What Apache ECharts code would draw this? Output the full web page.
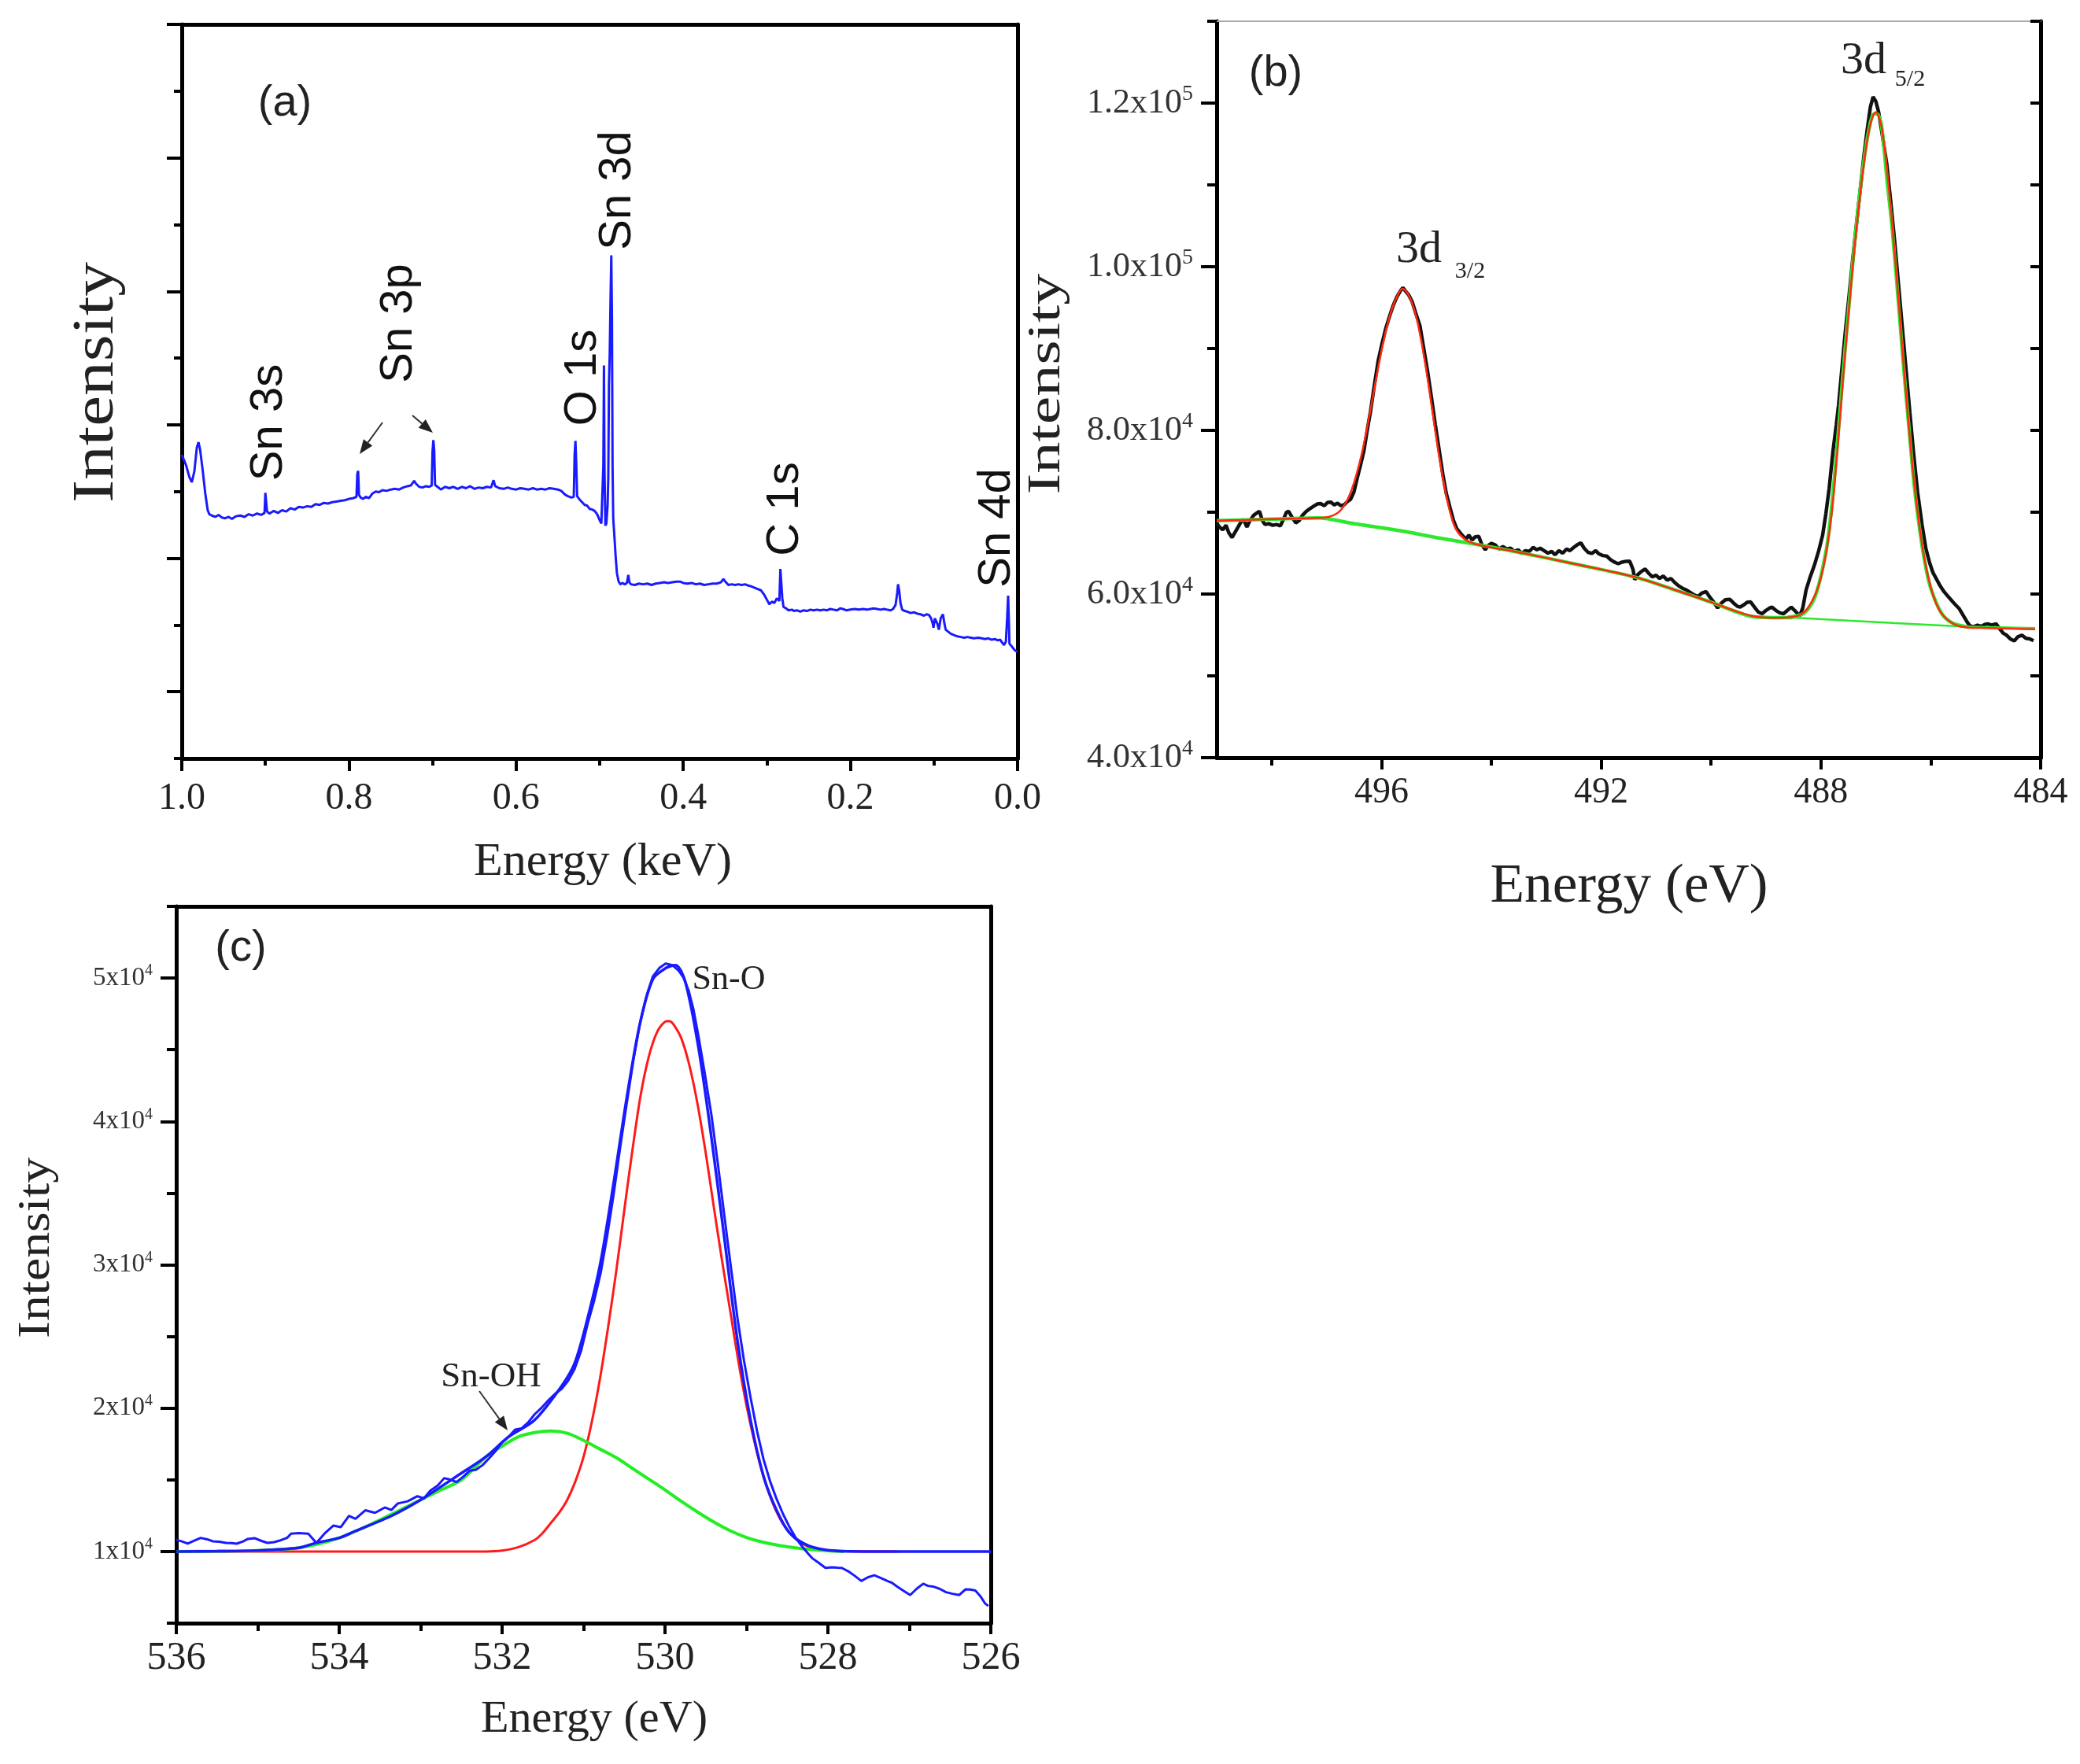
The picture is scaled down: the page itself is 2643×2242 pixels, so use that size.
<!DOCTYPE html>
<html><head><meta charset="utf-8">
<script src="https://cdn.jsdelivr.net/npm/echarts@6.0.0/dist/echarts.min.js"></script>
<style>html,body{margin:0;padding:0;background:#fff}#c{width:2643px;height:2242px}</style>
</head><body><div id="c"></div>
<script>
// ---------- DATA ----------
// (a) survey spectrum: [energy keV, intensity a.u.]
const A_SURVEY = [
[1.000,4.55],[0.995,4.40],[0.991,4.22],[0.988,4.14],[0.985,4.30],[0.982,4.66],[0.980,4.74],[0.978,4.62],[0.975,4.32],[0.972,3.98],
[0.969,3.72],[0.967,3.66],[0.964,3.64],[0.960,3.62],[0.956,3.65],[0.952,3.61],[0.948,3.60],[0.944,3.62],[0.940,3.59],[0.935,3.63],
[0.930,3.64],[0.925,3.62],[0.920,3.66],[0.915,3.64],[0.910,3.67],[0.905,3.65],[0.901,3.68],[0.900,3.98],[0.899,4.00],[0.898,3.70],
[0.895,3.67],[0.890,3.71],[0.885,3.68],[0.880,3.72],[0.875,3.70],[0.870,3.75],[0.865,3.73],[0.860,3.77],[0.855,3.76],[0.850,3.78],
[0.845,3.77],[0.840,3.81],[0.835,3.80],[0.830,3.83],[0.825,3.82],[0.820,3.84],[0.815,3.85],[0.810,3.86],[0.805,3.87],[0.800,3.89],
[0.795,3.90],[0.791,3.92],[0.790,4.26],[0.789,4.31],[0.788,3.95],[0.786,3.91],[0.783,3.89],[0.780,3.92],[0.776,3.90],[0.772,3.97],
[0.768,4.00],[0.764,3.99],[0.760,4.02],[0.755,4.01],[0.750,4.03],[0.745,4.04],[0.740,4.03],[0.735,4.06],[0.730,4.08],[0.726,4.09],
[0.722,4.16],[0.720,4.12],[0.716,4.07],[0.712,4.06],[0.708,4.08],[0.704,4.07],[0.701,4.09],[0.700,4.60],[0.699,4.77],[0.698,4.62],
[0.697,4.10],[0.694,4.07],[0.690,4.03],[0.685,4.07],[0.680,4.05],[0.675,4.07],[0.670,4.04],[0.665,4.07],[0.660,4.05],[0.655,4.08],
[0.650,4.04],[0.645,4.06],[0.640,4.05],[0.635,4.07],[0.630,4.06],[0.627,4.17],[0.625,4.08],[0.620,4.05],[0.615,4.04],[0.610,4.06],
[0.605,4.04],[0.600,4.03],[0.595,4.05],[0.590,4.04],[0.585,4.03],[0.580,4.05],[0.575,4.03],[0.570,4.04],[0.565,4.03],[0.560,4.05],
[0.555,4.04],[0.550,4.03],[0.546,4.01],[0.542,3.96],[0.538,3.93],[0.534,3.91],[0.531,3.92],[0.530,4.55],[0.529,4.76],[0.528,4.40],
[0.527,3.93],[0.524,3.88],[0.521,3.84],[0.518,3.80],[0.515,3.79],[0.512,3.74],[0.509,3.73],[0.506,3.71],[0.503,3.66],[0.500,3.57],
[0.498,3.52],[0.4965,3.50],[0.4956,4.40],[0.4949,5.89],[0.4942,4.30],[0.4932,3.49],[0.4920,3.52],[0.4905,3.80],[0.4897,4.21],[0.4889,5.60],
[0.4880,6.05],[0.4870,6.90],[0.4861,7.54],[0.4853,6.60],[0.4846,4.40],[0.4838,3.60],[0.4826,3.37],[0.4810,3.05],[0.4794,2.78],[0.4775,2.66],
[0.4755,2.61],[0.4730,2.63],[0.4700,2.61],[0.4675,2.63],[0.4657,2.75],[0.4645,2.64],[0.4626,2.61],[0.458,2.60],[0.453,2.62],[0.448,2.61],
[0.443,2.62],[0.438,2.60],[0.433,2.62],[0.428,2.63],[0.423,2.64],[0.418,2.63],[0.413,2.64],[0.408,2.65],[0.404,2.65],[0.400,2.63],
[0.395,2.62],[0.390,2.63],[0.385,2.61],[0.380,2.62],[0.375,2.60],[0.370,2.61],[0.365,2.62],[0.360,2.62],[0.355,2.64],[0.352,2.69],
[0.349,2.64],[0.346,2.60],[0.342,2.61],[0.338,2.60],[0.334,2.61],[0.330,2.60],[0.326,2.61],[0.322,2.59],[0.319,2.58],[0.315,2.56],
[0.311,2.54],[0.307,2.52],[0.303,2.45],[0.300,2.38],[0.297,2.31],[0.294,2.35],[0.291,2.33],[0.288,2.40],[0.285,2.36],[0.2838,2.84],
[0.2830,2.84],[0.2815,2.40],[0.280,2.27],[0.277,2.25],[0.274,2.22],[0.270,2.23],[0.2677,2.21],[0.264,2.22],[0.260,2.20],[0.256,2.22],
[0.252,2.21],[0.248,2.23],[0.244,2.22],[0.240,2.23],[0.236,2.22],[0.232,2.23],[0.228,2.22],[0.224,2.24],[0.220,2.23],[0.216,2.22],
[0.212,2.25],[0.209,2.24],[0.205,2.22],[0.200,2.23],[0.195,2.24],[0.190,2.23],[0.185,2.24],[0.180,2.23],[0.176,2.24],[0.172,2.25],
[0.168,2.24],[0.164,2.23],[0.160,2.24],[0.156,2.23],[0.152,2.22],[0.149,2.24],[0.146,2.30],[0.144,2.48],[0.143,2.61],[0.1415,2.50],
[0.140,2.32],[0.138,2.23],[0.135,2.21],[0.132,2.20],[0.128,2.18],[0.124,2.19],[0.120,2.17],[0.116,2.16],[0.112,2.14],[0.109,2.16],
[0.106,2.15],[0.1035,2.10],[0.1015,2.02],[0.1006,1.96],[0.099,2.10],[0.0974,2.12],[0.096,2.02],[0.0941,1.93],[0.092,2.10],[0.0893,2.16],
[0.0875,2.02],[0.086,1.93],[0.083,1.90],[0.080,1.87],[0.0762,1.85],[0.072,1.83],[0.068,1.82],[0.064,1.81],[0.060,1.82],[0.056,1.81],
[0.052,1.80],[0.047,1.81],[0.043,1.80],[0.039,1.79],[0.035,1.80],[0.031,1.78],[0.027,1.79],[0.024,1.77],[0.021,1.78],[0.018,1.73],
[0.0162,1.70],[0.014,1.75],[0.0125,2.10],[0.0113,2.44],[0.0105,2.10],[0.0097,1.72],[0.007,1.68],[0.0032,1.62],[0.000,1.60]
];
// (b) Sn 3d: measured data [eV, counts]
const B_DATA = [
[499.00,68650],[498.95,68200],[498.89,67850],[498.83,68400],[498.78,67500],[498.72,66900],[498.66,67600],[498.60,68300],[498.55,68900],[498.51,69100],
[498.45,68200],[498.40,68900],[498.33,69600],[498.27,69900],[498.22,70100],[498.17,69000],[498.12,68500],[498.05,68600],[497.98,68400],[497.91,68500],
[497.84,68330],[497.78,69200],[497.73,70000],[497.69,70100],[497.62,69300],[497.56,68700],[497.50,68970],[497.44,69600],[497.37,70100],[497.31,70400],
[497.24,70700],[497.17,71000],[497.11,71050],[497.04,70800],[496.98,71200],[496.92,71220],[496.86,70900],[496.80,71100],[496.74,70800],[496.68,70900],
[496.62,71300],[496.56,71600],[496.50,72500],[496.44,74200],[496.38,75800],[496.32,77500],[496.26,80000],[496.20,82300],[496.13,85500],[496.06,88500],
[495.99,90600],[495.92,92500],[495.85,94000],[495.79,95200],[495.72,96300],[495.65,97100],[495.61,97430],[495.56,97000],[495.50,96500],[495.44,95700],
[495.37,94200],[495.30,92800],[495.23,90000],[495.16,87200],[495.09,84000],[495.02,80700],[494.95,77600],[494.88,74500],[494.82,72300],[494.75,70500],
[494.69,69000],[494.63,68000],[494.57,67500],[494.52,67100],[494.46,66700],[494.41,67200],[494.35,66600],[494.29,67000],[494.23,67050],[494.17,66000],
[494.11,65400],[494.06,65900],[494.00,66200],[493.93,66000],[493.86,65500],[493.79,65800],[493.72,65500],[493.65,65600],[493.58,65200],[493.51,65400],
[493.45,64970],[493.38,65300],[493.31,65200],[493.24,65700],[493.17,65400],[493.11,65600],[493.04,65300],[492.97,65000],[492.90,65200],[492.84,64800],
[492.77,65300],[492.70,65000],[492.63,65500],[492.57,65300],[492.50,65700],[492.44,66000],[492.37,66250],[492.31,65600],[492.24,65100],[492.17,64970],
[492.10,65300],[492.04,64900],[491.97,64700],[491.90,64640],[491.83,64200],[491.76,63900],[491.69,63700],[491.62,63900],[491.55,64000],[491.48,64010],
[491.42,63000],[491.39,61760],[491.33,62400],[491.26,62800],[491.20,63050],[491.13,62500],[491.07,62100],[491.00,62300],[490.94,61900],[490.87,62200],
[490.80,61700],[490.73,61900],[490.66,61400],[490.59,61000],[490.52,60700],[490.45,60500],[490.38,60200],[490.31,59900],[490.24,59700],[490.17,60100],
[490.09,60300],[490.02,59600],[489.95,59000],[489.88,58300],[489.81,58900],[489.74,59300],[489.66,59360],[489.59,58900],[489.52,58500],[489.47,58400],
[489.40,58700],[489.34,59000],[489.28,59040],[489.21,58400],[489.14,57800],[489.07,57600],[489.00,58000],[488.93,58300],[488.89,58390],[488.82,58000],
[488.75,57700],[488.68,57600],[488.61,58000],[488.54,58400],[488.48,58000],[488.41,57500],[488.39,57280],[488.33,58300],[488.27,60490],[488.20,62000],
[488.11,63710],[488.04,65300],[487.97,67160],[487.91,69800],[487.85,72910],[487.78,77500],[487.72,80700],[487.68,83040],[487.62,87400],[487.56,91780],
[487.49,96300],[487.42,100980],[487.35,105400],[487.28,109720],[487.22,113400],[487.16,116620],[487.10,119500],[487.05,120760],[487.00,120200],[486.95,118920],
[486.88,116000],[486.80,112480],[486.73,108000],[486.66,103280],[486.59,98000],[486.52,92700],[486.45,87400],[486.38,82120],[486.31,77000],[486.24,72450],
[486.16,68500],[486.09,65560],[486.02,63800],[485.96,62600],[485.90,61870],[485.83,61000],[485.76,60300],[485.67,59580],[485.58,58900],[485.48,58190],
[485.41,57400],[485.34,56600],[485.29,56120],[485.22,56000],[485.15,56200],[485.08,56050],[485.01,56300],[484.96,56350],[484.89,56200],[484.81,56360],
[484.74,55700],[484.68,55200],[484.62,54970],[484.55,54500],[484.48,54280],[484.41,54800],[484.34,54970],[484.27,54600],[484.20,54520],[484.13,54300]
];
// (b) envelope fit (red)
const B_FIT = [
[499.0,68970],[498.5,69050],[498.0,69150],[497.5,69230],[497.16,69300],[496.95,69450],[496.8,69900],[496.7,70600],[496.6,71800],[496.5,73600],
[496.4,76000],[496.3,79000],[496.2,82500],[496.1,86200],[496.0,89700],[495.9,92700],[495.8,95000],[495.7,96600],[495.62,97300],[495.55,97000],
[495.45,95700],[495.35,93400],[495.25,90000],[495.15,85900],[495.05,81300],[494.95,76800],[494.85,73000],[494.75,70000],[494.65,68000],[494.5,66800],
[494.28,66085],[493.5,65100],[492.5,63700],[491.39,62080],[490.7,60600],[490.0,59000],[489.5,57800],[489.2,57250],[488.9,57100],[488.6,57150],
[488.4,57400],[488.25,58200],[488.1,60000],[488.0,62000],[487.9,65200],[487.8,70000],[487.7,77500],[487.6,86000],[487.5,94000],[487.4,101500],
[487.3,108000],[487.2,113500],[487.12,116800],[487.05,118500],[487.0,118900],[486.9,117200],[486.8,112000],[486.7,105000],[486.6,97000],[486.5,88500],
[486.4,80500],[486.3,73500],[486.2,68000],[486.1,63800],[486.0,60800],[485.9,58800],[485.8,57600],[485.65,56600],[485.5,56100],[485.3,55900],
[485.0,55850],[484.5,55760],[484.1,55700]
];
// (b) background (green), fitted part and tail under 3d5/2
const B_BACKGROUND = [
[499.0,68970],[498.0,69150],[497.16,69300],[496.5,68600],[496.0,68100],[495.5,67550],[495.0,66900],[494.28,66085],[493.5,65100],[492.5,63700],
[491.39,62080],[490.7,60600],[490.0,59000],[489.28,57280],[489.0,57150],[488.51,57115]
];
const B_BACKGROUND_TAIL = [
[488.51,57115],[487.5,56750],[486.5,56400],[485.5,56050],[484.1,55830]
];
// (b) 3d5/2 component (green)
const B_PEAK52 = [
[488.6,57200],[488.3,57700],[488.1,59800],[487.9,65500],[487.8,71000],[487.7,78500],[487.6,86800],[487.5,94500],[487.4,102000],[487.3,108500],
[487.2,113800],[487.12,117000],[487.05,118600],[486.98,118700],[486.9,117400],[486.8,110800],[486.7,104500],[486.6,96500],[486.5,88200],[486.4,80500],
[486.3,73200],[486.2,67800],[486.1,63600],[486.0,60700],[485.8,57600],[485.6,56450],[485.3,55950]
];
// (c) O 1s: measured data
const C_DATA = [
[536.00,10810],[535.93,10700],[535.86,10545],[535.78,10750],[535.70,10950],[535.62,10850],[535.55,10710],[535.47,10680],[535.39,10600],[535.32,10580],
[535.26,10545],[535.18,10700],[535.12,10875],[535.04,10930],[534.96,10750],[534.88,10600],[534.80,10650],[534.72,10780],[534.64,10950],[534.59,11245],
[534.50,11280],[534.42,11260],[534.38,11245],[534.28,10600],[534.17,11310],[534.07,11810],[533.98,11700],[533.88,12480],[533.80,12280],[533.68,12875],
[533.56,12700],[533.44,13070],[533.36,12900],[533.28,13350],[533.16,13500],[533.04,13860],[532.96,13700],[532.88,14250],[532.79,14600],[532.71,15120],
[532.63,15000],[532.56,14845],[532.48,15200],[532.40,15630],[532.32,15700],[532.24,16025],[532.16,16500],[532.08,17010],[532.00,17600],[531.92,18000],
[531.84,18500],[531.76,18585],[531.68,19000],[531.60,19570],[531.52,20000],[531.43,20560],[531.35,21000],[531.27,21345],[531.19,21900],[531.11,22725],
[531.03,24000],[530.95,25880],[530.87,27500],[530.79,29425],[530.71,32000],[530.63,34940],[530.55,38200],[530.47,41250],[530.39,44200],[530.31,46765],
[530.23,48700],[530.15,50110],[530.07,50700],[529.99,51015],[529.91,50900],[529.83,50500],[529.77,50000],[529.71,49130],[529.65,47800],[529.59,45970],
[529.51,43300],[529.43,40460],[529.35,37000],[529.27,33370],[529.19,29800],[529.11,26270],[529.03,23300],[528.95,20755],[528.87,18400],[528.79,16420],
[528.71,14900],[528.63,13660],[528.55,12600],[528.47,11690],[528.39,10900],[528.31,10310],[528.25,9900],[528.19,9520],[528.11,9200],[528.03,8855],
[527.95,8900],[527.88,8870],[527.83,8855],[527.75,8620],[527.67,8300],[527.59,7945],[527.51,8200],[527.43,8340],[527.35,8150],[527.27,7945],
[527.21,7800],[527.15,7555],[527.07,7250],[526.99,6960],[526.91,7400],[526.83,7750],[526.77,7600],[526.71,7555],[526.63,7400],[526.55,7160],
[526.47,7050],[526.39,6960],[526.31,7360],[526.25,7350],[526.19,7280],[526.13,6900],[526.07,6370],[526.03,6200]
];
// (c) envelope fit (blue)
const C_ENVELOPE = [
[536.0,10000],[535.5,10020],[535.0,10070],[534.5,10250],[534.3,10580],[534.0,10950],[533.82,11380],[533.36,12480],[533.0,13600],[532.56,15240],
[532.2,16600],[531.92,18000],[531.6,19175],[531.27,21540],[531.11,23120],[530.95,26270],[530.79,30210],[530.63,35730],[530.47,41640],[530.31,46765],
[530.15,49910],[529.99,50700],[529.87,50900],[529.75,49720],[529.59,45185],[529.43,38880],[529.27,31790],[529.11,24690],[528.95,19175],[528.79,15240],
[528.63,12875],[528.47,11300],[528.23,10390],[527.91,10050],[527.5,10000],[526.0,10000]
];
// (c) Sn-O component (red)
const C_SNO = [
[536.0,10000],[533.0,10000],[532.2,10000],[532.0,10060],[531.8,10300],[531.6,10800],[531.5,11300],[531.4,12000],[531.3,12700],[531.2,13600],
[531.1,14900],[531.0,16600],[530.9,19000],[530.8,22000],[530.7,25600],[530.6,29500],[530.5,33800],[530.4,38000],[530.3,41800],[530.2,44500],
[530.1,46200],[530.0,46950],[529.95,47000],[529.9,46800],[529.8,45800],[529.7,43900],[529.6,41200],[529.5,37800],[529.4,34000],[529.3,30300],
[529.2,26800],[529.1,23300],[529.0,20200],[528.9,17600],[528.8,15400],[528.7,13700],[528.6,12400],[528.5,11500],[528.4,10900],[528.3,10500],
[528.2,10250],[528.05,10100],[527.8,10020],[527.15,10000]
];
// (c) Sn-OH component (green)
const C_SNOH = [
[536.0,10000],[535.5,10020],[535.0,10070],[534.5,10250],[534.0,10950],[533.5,12200],[533.0,13600],[532.75,14300],[532.5,15000],[532.2,16600],
[532.0,17350],[531.8,18000],[531.6,18300],[531.4,18400],[531.2,18250],[531.0,17750],[530.8,17150],[530.6,16550],[530.4,15800],[530.2,15050],
[530.0,14300],[529.8,13500],[529.6,12750],[529.4,12050],[529.2,11450],[529.0,10980],[528.8,10650],[528.6,10420],[528.4,10250],[528.2,10130],
[528.0,10050],[527.8,10000]
];
// tick values
const A_X_TICKS = [0, 0.2, 0.4, 0.6, 0.8, 1.0];
const A_X_MINOR = [0.1, 0.3, 0.5, 0.7, 0.9];
const A_Y_TICKS = [1, 3, 5, 7, 9, 11];
const A_Y_MINOR = [0, 2, 4, 6, 8, 10];
const B_X_TICKS = [484, 488, 492, 496];
const B_X_MINOR = [486, 490, 494, 498];
const B_Y_TICKS = [40000, 60000, 80000, 100000, 120000];
const B_Y_MINOR = [50000, 70000, 90000, 110000, 130000];
const C_X_TICKS = [526, 528, 530, 532, 534, 536];
const C_X_MINOR = [527, 529, 531, 533, 535];
const C_Y_TICKS = [10000, 20000, 30000, 40000, 50000];
const C_Y_MINOR = [5000, 15000, 25000, 35000, 45000, 55000];

// ---------- CHART ----------
const SERIF = '"Liberation Serif", "Times New Roman", serif';
const SANS = '"Liberation Sans", Arial, sans-serif';
const chart = echarts.init(document.getElementById('c'), null, {renderer: 'canvas'});
const mctx = document.createElement('canvas').getContext('2d');
function fitScale(text, font, target) { mctx.font = font; return target / mctx.measureText(text).width; }

function xAxes(g, min, max, majors, minors, o) {
  return [
    {gridIndex: g, type: 'value', position: 'bottom', min, max, inverse: true,
     axisLine: {show: true, onZero: false, lineStyle: {color: '#000', width: o.lw}},
     axisTick: {show: true, customValues: majors, length: o.tl, lineStyle: {color: '#000', width: 4}},
     axisLabel: {show: true, customValues: majors, margin: o.margin, color: '#222', fontFamily: SERIF, fontSize: o.fs, formatter: o.fmt},
     splitLine: {show: false}},
    {gridIndex: g, type: 'value', position: 'bottom', min, max, inverse: true,
     axisLine: {show: false, onZero: false},
     axisTick: {show: true, customValues: minors, length: o.tlm, lineStyle: {color: '#000', width: 4}},
     axisLabel: {show: false}, splitLine: {show: false}},
    {gridIndex: g, type: 'value', position: 'top', min, max, inverse: true,
     axisLine: {show: true, onZero: false, lineStyle: {color: o.topColor, width: o.topW}},
     axisTick: {show: false}, axisLabel: {show: false}, splitLine: {show: false}}
  ];
}
function yAxes(g, min, max, majors, minors, o) {
  return [
    {gridIndex: g, type: 'value', position: 'left', min, max,
     axisLine: {show: true, onZero: false, lineStyle: {color: '#000', width: o.lw}},
     axisTick: {show: true, customValues: majors, length: o.tl, lineStyle: {color: '#000', width: 4}},
     axisLabel: o.label ? {show: true, customValues: majors, margin: o.margin, formatter: o.fmt, rich: o.rich} : {show: false},
     splitLine: {show: false}},
    {gridIndex: g, type: 'value', position: 'left', min, max,
     axisLine: {show: false, onZero: false},
     axisTick: {show: true, customValues: minors, length: o.tlm, lineStyle: {color: '#000', width: 4}},
     axisLabel: {show: false}, splitLine: {show: false}},
    {gridIndex: g, type: 'value', position: 'right', min, max,
     axisLine: {show: true, onZero: false, lineStyle: {color: '#000', width: o.lw}},
     axisTick: o.rightTicks ? {show: true, inside: true, customValues: majors.concat(minors), length: 13, lineStyle: {color: '#000', width: 4}} : {show: false},
     axisLabel: {show: false}, splitLine: {show: false}}
  ];
}
const supFmt1 = v => { const e = Math.floor(Math.log10(v) + 1e-9); const m = (v / Math.pow(10, e)).toFixed(1); return '{m|' + m + 'x10}{e|' + e + '}'; };
const supFmtC = v => '{m|' + Math.round(v / 1e4) + 'x10}{e|4}';

const xAxis = [].concat(
  xAxes(0, 0, 1, A_X_TICKS, A_X_MINOR, {lw: 5, tl: 16, tlm: 9, margin: 27, fs: 48, fmt: v => v.toFixed(1), topColor: '#000', topW: 5}),
  xAxes(1, 484, 499, B_X_TICKS, B_X_MINOR, {lw: 5, tl: 15, tlm: 10, margin: 22, fs: 46, fmt: v => String(v), topColor: '#aaa', topW: 2}),
  xAxes(2, 526, 536, C_X_TICKS, C_X_MINOR, {lw: 5, tl: 14, tlm: 10, margin: 20, fs: 50, fmt: v => String(v), topColor: '#000', topW: 5})
);
const yAxis = [].concat(
  yAxes(0, 0, 11, A_Y_TICKS, A_Y_MINOR, {lw: 5, tl: 19, tlm: 10, label: false}),
  yAxes(1, 40000, 130000, B_Y_TICKS, B_Y_MINOR, {lw: 5, tl: 20, tlm: 12, label: true, margin: 30, fmt: supFmt1, rightTicks: true,
    rich: {m: {fontSize: 44, lineHeight: 50, fontFamily: SERIF, color: '#333'}, e: {fontSize: 28, lineHeight: 30, fontFamily: SERIF, color: '#333', verticalAlign: 'top'}}}),
  yAxes(2, 5000, 55000, C_Y_TICKS, C_Y_MINOR, {lw: 5, tl: 20, tlm: 12, label: true, margin: 30, fmt: supFmtC, rightTicks: false,
    rich: {m: {fontSize: 33, lineHeight: 38, fontFamily: SERIF, color: '#333'}, e: {fontSize: 20, lineHeight: 22, fontFamily: SERIF, color: '#333', verticalAlign: 'top'}}})
);

function line(data, xi, yi, color, width, smooth) {
  return {type: 'line', xAxisIndex: xi, yAxisIndex: yi, data: data, showSymbol: false, symbol: 'none',
    smooth: smooth ? 0.3 : false, lineStyle: {color: color, width: width}, silent: true};
}
const series = [
  line(A_SURVEY, 0, 0, '#1a1aff', 3, false),
  line(B_DATA, 3, 3, '#111111', 4.5, false),
  line(B_BACKGROUND, 3, 3, '#2ee82e', 4.5, true),
  line(B_BACKGROUND_TAIL, 3, 3, '#2ee82e', 2.5, false),
  line(B_PEAK52, 3, 3, '#2ee82e', 4.5, true),
  line(B_FIT, 3, 3, '#ff2a10', 2.5, true),
  line(C_SNO, 6, 6, '#ff1a1a', 3, true),
  line(C_SNOH, 6, 6, '#22ee22', 4, true),
  line(C_ENVELOPE, 6, 6, '#1a1aff', 3.5, true),
  line(C_DATA, 6, 6, '#1a1aff', 3, false)
];

// ---------- ANNOTATIONS ----------
const G = [];
function text(t, x, y, font, opt) {
  opt = opt || {};
  G.push({type: 'text', x: x, y: y, rotation: opt.rot || 0, scaleX: opt.sx || 1, scaleY: 1, silent: true, z: 100,
    style: {text: t, font: font, fill: opt.fill || '#222', align: opt.align || 'center', verticalAlign: 'middle'}});
}
function title(t, x, y, size, target, rot) {
  const f = size + 'px ' + SERIF;
  text(t, x, y, f, {sx: fitScale(t, f, target), rot: rot ? Math.PI / 2 : 0});
}
function arrow(x1, y1, x2, y2) {
  const dx = x2 - x1, dy = y2 - y1, L = Math.sqrt(dx * dx + dy * dy), ux = dx / L, uy = dy / L;
  const h = 18, w = 7, bx = x2 - ux * h, by = y2 - uy * h;
  G.push({type: 'line', silent: true, z: 100, shape: {x1: x1, y1: y1, x2: bx, y2: by}, style: {stroke: '#333', lineWidth: 2}});
  G.push({type: 'polygon', silent: true, z: 100, shape: {points: [[x2, y2], [bx - uy * w, by + ux * w], [bx + uy * w, by - ux * w]]}, style: {fill: '#222'}});
}
// axis titles
title('Energy (keV)', 766, 1096, 60, 328, false);
title('Intensity', 124, 486, 74, 306, true);
title('Energy (eV)', 2070, 1128, 70, 353, false);
title('Intensity', 1330, 488, 60, 281, true);
title('Energy (eV)', 755, 2186, 57, 288, false);
title('Intensity', 47, 1586, 56, 230, true);
// panel letters
const LET = '56px ' + SANS;
text('(a)', 362, 132, LET);
text('(b)', 1621, 94, LET);
text('(c)', 306, 1206, LET);
// survey peak labels
const PK = '58px ' + SANS;
[['Sn 3s', 342, 537], ['Sn 3p', 507, 411], ['O 1s', 741, 480], ['Sn 3d', 785, 242], ['C 1s', 998, 647], ['Sn 4d', 1267, 671]]
  .forEach(p => text(p[0], p[1], p[2], PK, {rot: Math.PI / 2, fill: '#111'}));
arrow(486, 537, 457, 577);
arrow(524, 528, 550, 550);
// (b) peak labels
text('3d', 2368, 78, '58px ' + SERIF);
text('5/2', 2427, 101, '30px ' + SERIF);
text('3d', 1803, 318, '58px ' + SERIF);
text('3/2', 1868, 345, '30px ' + SERIF);
// (c) labels
text('Sn-O', 926, 1245, '44px ' + SERIF);
text('Sn-OH', 624, 1750, '45px ' + SERIF);
arrow(609, 1768, 645, 1818);

chart.setOption({
  animation: false,
  backgroundColor: '#fff',
  grid: [
    {left: 231, top: 31, width: 1062, height: 933},
    {left: 1546, top: 27, width: 1047, height: 936},
    {left: 224, top: 1152, width: 1035, height: 911}
  ],
  xAxis: xAxis,
  yAxis: yAxis,
  series: series,
  graphic: {elements: G}
});
</script></body></html>
